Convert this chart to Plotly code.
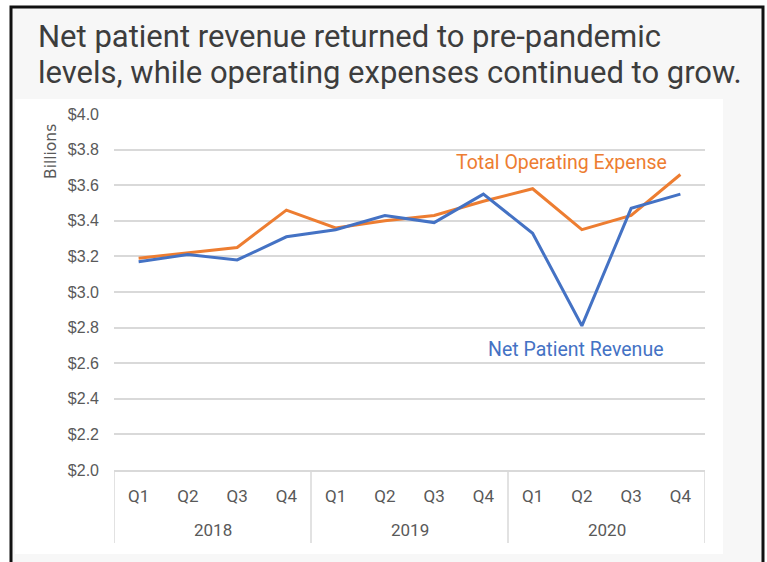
import plotly.graph_objects as go

years = ["2018", "2019", "2020"]
quarters = ["Q1", "Q2", "Q3", "Q4"]
total_operating_expense = [3.19, 3.22, 3.25, 3.46, 3.36, 3.40, 3.43, 3.51, 3.58, 3.35, 3.43, 3.66]
net_patient_revenue = [3.17, 3.21, 3.18, 3.31, 3.35, 3.43, 3.39, 3.55, 3.33, 2.81, 3.47, 3.55]
y_ticks = [2.0, 2.2, 2.4, 2.6, 2.8, 3.0, 3.2, 3.4, 3.6, 3.8, 4.0]

categories = [f"{y} {q}" for y in years for q in quarters]
tick_text = [q for y in years for q in quarters]

ORANGE = "#ED7D31"
BLUE = "#4472C4"
GRID = "#d9d9d9"
TEXT = "#595959"

W, H = 767, 562
L, R, T, B = 114, 705, 114, 470


def px(x):
    return (x - L) / (R - L)


def py(y):
    return (B - y) / (B - T)


fig = go.Figure()
fig.add_trace(go.Scatter(x=categories, y=total_operating_expense, mode="lines",
                         line=dict(color=ORANGE, width=3), name="Total Operating Expense"))
fig.add_trace(go.Scatter(x=categories, y=net_patient_revenue, mode="lines",
                         line=dict(color=BLUE, width=3), name="Net Patient Revenue"))

shapes = [
    dict(type="rect", xref="paper", yref="paper", x0=px(11), x1=px(763), y0=py(7), y1=py(600),
         fillcolor="#f7f7f7", line=dict(color="#111111", width=3), layer="below"),
    dict(type="rect", xref="paper", yref="paper", x0=px(15), x1=px(723), y0=py(99), y1=py(554),
         fillcolor="white", line=dict(width=0), layer="below"),
]
# group dividers below the axis
n_q = len(quarters)
for i in range(len(years) + 1):
    xv = i * n_q - 0.5
    shapes.append(dict(type="line", xref="x", yref="paper", x0=xv, x1=xv, y0=0, y1=py(543),
                       line=dict(color=GRID, width=1.5)))

TITLE_FONT = dict(family="Roboto", size=31, color="#3d3d3d")
annotations = [
    dict(text="Net patient revenue returned to pre-pandemic", xref="paper", yref="paper",
         x=px(36), y=py(57), xanchor="left", yanchor="bottom", showarrow=False,
         font=TITLE_FONT),
    dict(text="levels, while operating expenses continued to grow.", xref="paper", yref="paper",
         x=px(36), y=py(93), xanchor="left", yanchor="bottom", showarrow=False,
         font=TITLE_FONT),
    dict(text="Billions", xref="paper", yref="paper", x=px(51), y=py(152), textangle=-90,
         xanchor="center", yanchor="middle", showarrow=False,
         font=dict(family="DejaVu Sans", size=15.5, color=TEXT)),
    dict(text="Total Operating Expense", xref="paper", yref="paper", x=px(561), y=py(163),
         xanchor="center", yanchor="middle", showarrow=False,
         font=dict(family="Roboto", size=19.5, color=ORANGE)),
    dict(text="Net Patient Revenue", xref="paper", yref="paper", x=px(575), y=py(349),
         xanchor="center", yanchor="middle", showarrow=False,
         font=dict(family="Roboto", size=19.5, color=BLUE)),
]
for i, yr in enumerate(years):
    annotations.append(dict(text=yr, xref="x", yref="paper", x=i * n_q + (n_q - 1) / 2,
                            y=py(530), xanchor="center", yanchor="middle", showarrow=False,
                            font=dict(family="Roboto", size=17, color=TEXT)))

fig.update_layout(
    width=W, height=H,
    margin=dict(l=L, r=W - R, t=T, b=H - B, pad=0),
    paper_bgcolor="white", plot_bgcolor="white",
    showlegend=False,
    shapes=shapes, annotations=annotations,
    xaxis=dict(type="category", categoryorder="array", categoryarray=categories,
               tickvals=categories, ticktext=tick_text, showgrid=False, showline=True,
               linecolor=GRID, linewidth=1.5, ticks="", ticklabelstandoff=10,
               tickfont=dict(family="Roboto", size=17, color=TEXT),
               range=[-0.5, 11.5]),
    yaxis=dict(range=[2.0, 4.0], tickvals=y_ticks, tickformat="$.1f",
               showgrid=True, gridcolor=GRID, gridwidth=1.5, zeroline=False,
               showline=False, ticklabelstandoff=14,
               tickfont=dict(family="Liberation Sans", size=16, color=TEXT)),
)

fig.write_html("out.html", config={"displayModeBar": False},
               post_script="document.body.style.margin='0px';")
